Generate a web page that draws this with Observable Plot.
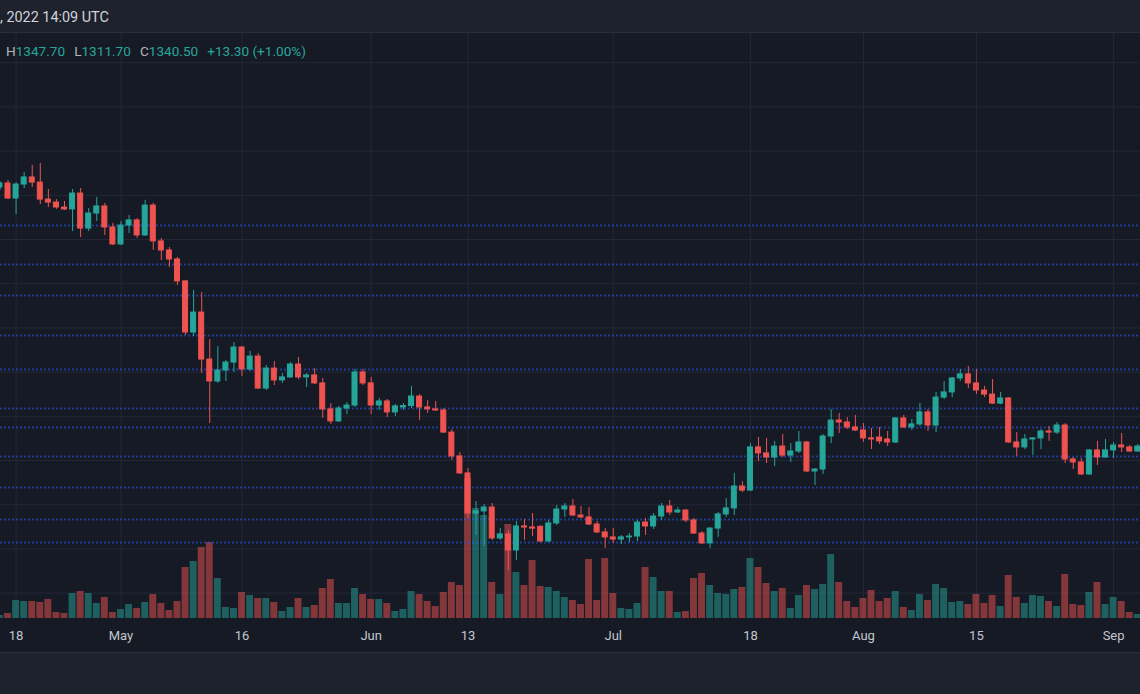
<!DOCTYPE html>
<html>
<head>
<meta charset="utf-8">
<script src="https://cdn.jsdelivr.net/npm/d3@7"></script>
<script src="https://cdn.jsdelivr.net/npm/@observablehq/plot@0.6"></script>
<style>
  html, body { margin: 0; padding: 0; width: 1140px; height: 694px; overflow: hidden; background: #1e222d; font-family: Roboto, "Noto Sans", sans-serif; }
  #header { height: 32px; border-bottom: 1px solid #2a2e39; background: #1e222d; color: #d1d4dc; font-size: 14.4px; line-height: 35px; white-space: nowrap; overflow: hidden; }
  #chart { position: relative; width: 1140px; height: 619px; background: #161a25; overflow: hidden; }
  #chart svg { position: absolute; left: 0; top: 0; }
  #legend { position: absolute; left: 6px; top: 10px; font-size: 13.6px; line-height: 16px; z-index: 10; white-space: nowrap; color: #b2b5be; }
  #legend .v { color: #26a69a; margin-right: 9px; }
  #footer { height: 41px; border-top: 1px solid #2a2e39; background: #1e222d; }
</style>
</head>
<body>
<div id="header"></div>
<div id="chart"><div id="legend"></div></div>
<div id="footer"></div>
<script>
// ---------- data (daily ETH candles) ----------
const startDay = "2022-04-16";
const open = [3044,3067,2982,3061,3101,3072,2976,2959,2931,2920,
  3010,2812,2897,2937,2818,2722,2829,2858,2773,2942,
  2739,2688,2637,2513,2224,2337,2071,1947,2009,2054,
  2139,2015,2088,1907,2020,1953,1970,2043,1970,1981,
  1936,1789,1721,1794,1811,1998,1936,1811,1834,1772,
  1800,1808,1862,1800,1789,1783,1658,1523,1427,1200,
  1212,1234,1059,1082,991,1127,1121,1125,1042,1144,
  1223,1240,1189,1178,1138,1093,1065,1053,1065,1070,
  1149,1127,1183,1240,1206,1217,1161,1087,1031,1115,
  1195,1229,1353,1330,1574,1540,1517,1579,1528,1551,
  1602,1438,1449,1636,1726,1715,1687,1670,1625,1630,
  1619,1602,1738,1687,1704,1772,1698,1856,1885,1964,
  1987,1936,1896,1873,1822,1851,1602,1574,1619,1625,
  1664,1658,1698,1506,1489,1421,1557,1517,1557,1585,
  1574,1551];
const high = [3078,3084,3072,3129,3169,3180,3033,2976,2965,3033,
  3038,2925,2988,2954,2841,2852,2886,2869,2971,2954,
  2756,2705,2648,2518,2462,2450,2184,2145,2066,2167,
  2145,2117,2105,2037,2060,1992,2054,2083,1992,2020,
  1964,1822,1806,1828,2015,2015,1970,1851,1845,1817,
  1822,1919,1873,1839,1834,1794,1675,1545,1455,1268,
  1251,1257,1115,1104,1155,1166,1200,1130,1161,1246,
  1257,1279,1240,1234,1155,1115,1115,1076,1087,1161,
  1172,1200,1257,1274,1234,1223,1172,1098,1121,1206,
  1285,1427,1381,1596,1630,1625,1608,1647,1596,1664,
  1608,1455,1647,1789,1766,1743,1755,1709,1681,1687,
  1664,1743,1755,1732,1822,1789,1885,1947,1970,2015,
  2032,2015,1919,1958,1885,1856,1658,1647,1630,1675,
  1692,1715,1709,1517,1511,1562,1608,1619,1602,1653,
  1585,1591];
const low = [3027,2976,2891,3038,3044,2948,2931,2920,2914,2795,
  2761,2795,2852,2773,2716,2716,2784,2756,2767,2688,
  2631,2592,2490,2207,2201,1992,1709,1936,1947,1998,
  1975,2003,1902,1896,1924,1936,1964,1958,1913,1930,
  1738,1704,1715,1760,1800,1924,1760,1783,1743,1749,
  1783,1794,1726,1766,1777,1653,1500,1421,1172,1076,
  1014,1048,1048,878,934,1048,1070,1036,1036,1132,
  1178,1183,1172,1132,1087,1002,1031,1025,1036,1042,
  1076,1110,1161,1189,1200,1149,1082,1025,1002,1065,
  1178,1189,1319,1325,1494,1483,1466,1517,1489,1540,
  1432,1359,1421,1596,1653,1675,1664,1602,1562,1591,
  1579,1596,1681,1670,1692,1664,1658,1845,1856,1947,
  1907,1873,1856,1817,1815,1596,1523,1562,1528,1562,
  1608,1647,1483,1449,1415,1415,1472,1512,1511,1545,
  1545,1545];
const close = [3067,2982,3061,3101,3072,2976,2959,2931,2920,3010,
  2812,2897,2937,2818,2722,2829,2858,2773,2942,2739,
  2688,2637,2513,2224,2337,2071,1947,2009,2054,2139,
  2015,2088,1907,2020,1953,1970,2043,1970,1981,1936,
  1789,1721,1794,1811,1998,1936,1811,1834,1772,1806,
  1808,1862,1800,1789,1783,1658,1523,1427,1200,1212,
  1234,1059,1082,991,1127,1121,1115,1042,1144,1223,
  1240,1189,1178,1138,1093,1065,1053,1065,1070,1149,
  1127,1183,1240,1206,1217,1161,1087,1031,1115,1195,
  1229,1353,1330,1574,1540,1517,1579,1528,1551,1602,
  1438,1449,1636,1726,1715,1687,1670,1625,1619,1608,
  1602,1738,1687,1704,1772,1698,1856,1885,1964,1987,
  1936,1896,1873,1822,1851,1602,1574,1619,1625,1664,
  1658,1698,1506,1489,1421,1557,1517,1557,1585,1574,
  1551,1579];
const volume = [30,50,180,170,170,160,190,60,50,250,
  270,250,150,210,60,90,140,100,160,240,
  150,80,170,510,570,710,760,400,110,100,
  260,230,200,200,160,70,110,200,110,130,
  300,390,150,150,300,240,190,190,150,70,
  90,270,240,170,120,260,360,330,1400,1100,
  1030,360,240,940,460,330,580,320,310,270,
  210,180,140,590,180,600,250,100,90,150,
  510,410,270,270,60,70,400,450,330,250,
  240,290,310,600,510,350,270,300,100,230,
  330,290,340,640,360,170,110,200,280,170,
  200,270,110,80,240,180,340,300,160,170,
  140,240,150,230,120,430,210,150,230,220,
  170,120,440,140,130,260,360,140,210,170,
  60,40];

const tickDays = ["2022-04-18","2022-05-01","2022-05-16","2022-06-01","2022-06-13",
                  "2022-07-01","2022-07-18","2022-08-01","2022-08-15","2022-09-01"];
const tickLabels = ["18","May","16","Jun","13","Jul","18","Aug","15","Sep"];
const priceGrid = [750,1000,1250,1500,1750,2000,2250,2500,2750,3000,3250,3500,3750];
const levels = [2829,2609,2433,2207,2015,1794,1687,1523,1347,1166,1036];
const headerText = ", 2022 14:09 UTC";
const legendItems = [["H","1347.70"],["L","1311.70"],["C","1340.50"],["","+13.30 (+1.00%)"]];

// ---------- build ----------
const parse = d3.utcParse("%Y-%m-%d");
const t0 = parse(startDay);
const DAY = 864e5;
const candles = open.map((o, i) => ({
  date: d3.utcDay.offset(t0, i), open: o, high: high[i], low: low[i], close: close[i],
  volume: volume[i], up: close[i] >= o
}));
const tickDates = tickDays.map(parse);
const labelOf = new Map(tickDates.map((d, i) => [+d, tickLabels[i]]));

const xDomain = [new Date(Date.UTC(2022, 3, 16, 1, 40)), new Date(Date.UTC(2022, 8, 4, 8, 0))];
const yDomain = [606.4, 3915.2];
const UP = "#26a69a", DOWN = "#ef5350";

const base = {
  width: 1140, height: 619, marginTop: 0, marginRight: 0, marginBottom: 34, marginLeft: 0,
  style: {background: "transparent", fontFamily: "Roboto, 'Noto Sans', sans-serif"}
};

// layer 1: grid + time axis
const gridPlot = Plot.plot({
  ...base,
  x: {type: "utc", domain: xDomain, axis: null},
  y: {domain: yDomain, axis: null},
  marks: [
    Plot.gridY(priceGrid, {stroke: "#242836", strokeOpacity: 1}),
    Plot.gridX(tickDates, {stroke: "#242836", strokeOpacity: 1}),
    Plot.axisX(tickDates, {tickSize: 0, tickPadding: 12, fontSize: 13, fill: "#c3c6ce",
      tickFormat: d => labelOf.get(+d)})
  ]
});

// layer 2: volume
const volPlot = Plot.plot({
  ...base,
  x: {type: "utc", domain: xDomain, axis: null},
  y: {domain: [0, 5850], axis: null},
  marks: [
    Plot.rectY(candles, {filter: d => d.up, x1: d => new Date(+d.date - 0.43 * DAY), x2: d => new Date(+d.date + 0.43 * DAY),
      y: "volume", fill: UP, fillOpacity: 0.5}),
    Plot.rectY(candles, {filter: d => !d.up, x1: d => new Date(+d.date - 0.43 * DAY), x2: d => new Date(+d.date + 0.43 * DAY),
      y: "volume", fill: DOWN, fillOpacity: 0.5})
  ]
});

// layer 3: drawn levels + candles
const candlePlot = Plot.plot({
  ...base,
  x: {type: "utc", domain: xDomain, axis: null},
  y: {domain: yDomain, axis: null},
  marks: [
    Plot.ruleY(levels, {stroke: "#2962ff", strokeOpacity: 0.5, strokeWidth: 2, strokeDasharray: "2,2"}),
    Plot.ruleX(candles, {x: "date", y1: "low", y2: "high", stroke: d => d.up ? UP : DOWN, strokeWidth: 1}),
    Plot.rect(candles, {x1: d => new Date(+d.date - 0.31 * DAY), x2: d => new Date(+d.date + 0.31 * DAY),
      y1: "open", y2: "close", fill: d => d.up ? UP : DOWN, stroke: d => d.up ? UP : DOWN, strokeWidth: 1})
  ],
  color: {type: "identity"}
});

const chart = document.getElementById("chart");
chart.insertBefore(candlePlot, chart.firstChild);
chart.insertBefore(volPlot, chart.firstChild);
chart.insertBefore(gridPlot, chart.firstChild);

document.getElementById("header").textContent = headerText;
const legend = document.getElementById("legend");
legendItems.forEach(([k, v]) => {
  if (k) legend.appendChild(document.createTextNode(k));
  const s = document.createElement("span");
  s.className = "v";
  s.textContent = v;
  legend.appendChild(s);
});
</script>
</body>
</html>
